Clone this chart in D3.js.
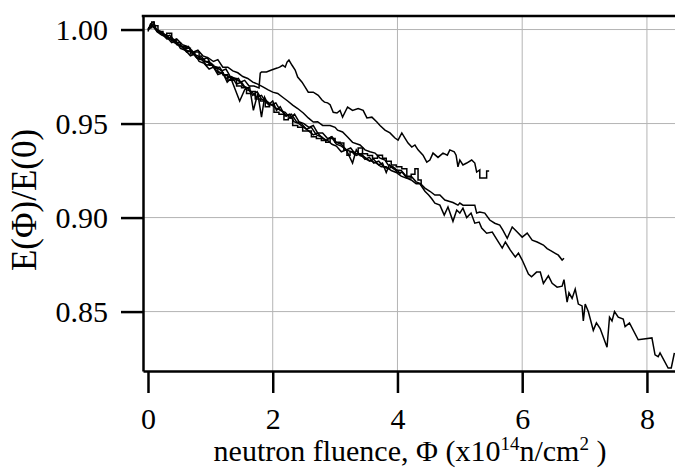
<!DOCTYPE html>
<html>
<head>
    <title>Energy vs neutron fluence</title>
    <script src="https://d3js.org/d3.v7.min.js"></script>
    <style>
        body { margin: 0; background: white; }
        svg text { font-family: "Liberation Serif", "Times New Roman", serif; fill: black; }
    </style>
</head>
<body>
    <svg id="chart" width="675" height="471"></svg>

    <script>
        // ticks
        const xTicks = [0, 2, 4, 6, 8]
        const yTicks = [0.85, 0.90, 0.95, 1.00]

        // traces, [fluence, E/E0]
        const curveA = [[0,1.000],[0.05,1.003],[0.1,1.001],[0.18,0.999],[0.25,0.998],[0.32,0.995],[0.4,0.995],[0.48,0.992],[0.55,0.991],[0.62,0.989],[0.7,0.988],[0.78,0.985],[0.85,0.986],[0.92,0.983],[1.0,0.982],[1.08,0.979],[1.15,0.980],[1.22,0.976],[1.3,0.975],[1.38,0.973],[1.45,0.974],[1.52,0.970],[1.6,0.969],[1.68,0.965],[1.75,0.967],[1.82,0.963],[1.9,0.962],[1.98,0.960],[2.05,0.961],[2.12,0.957],[2.2,0.956],[2.28,0.953],[2.35,0.955],[2.42,0.951],[2.5,0.950],[2.58,0.948],[2.65,0.949],[2.72,0.945],[2.8,0.945],[2.88,0.942],[2.95,0.943],[3.02,0.940],[3.1,0.939],[3.18,0.936],[3.25,0.937],[3.32,0.934],[3.4,0.934],[3.48,0.931],[3.55,0.932],[3.62,0.929],[3.7,0.930],[3.78,0.927],[3.85,0.926],[3.92,0.927],[4.0,0.924],[4.08,0.924],[4.15,0.921],[4.22,0.920],[4.3,0.918],[4.36,0.918],[4.44,0.914],[4.5,0.912],[4.55,0.910],[4.6,0.9077],[4.68,0.9066],[4.75,0.9013],[4.81,0.9056],[4.89,0.898],[4.95,0.904],[5.0,0.9024],[5.05,0.905],[5.11,0.900],[5.18,0.9024],[5.24,0.897],[5.31,0.8976],[5.35,0.8944],[5.43,0.8917],[5.52,0.8923],[5.6,0.888],[5.68,0.8838],[5.73,0.887],[5.81,0.8827],[5.89,0.879],[5.94,0.8811],[6.0,0.8774],[6.1,0.870],[6.15,0.8685],[6.23,0.871],[6.29,0.871],[6.34,0.865],[6.42,0.869],[6.48,0.865],[6.56,0.863],[6.64,0.8635],[6.67,0.867],[6.72,0.855],[6.75,0.860],[6.8,0.857],[6.85,0.862],[6.9,0.854],[6.96,0.853],[6.98,0.845],[7.01,0.854],[7.06,0.850],[7.14,0.840],[7.19,0.844],[7.25,0.841],[7.36,0.831],[7.4,0.847],[7.44,0.845],[7.48,0.850],[7.54,0.847],[7.62,0.846],[7.65,0.842],[7.72,0.844],[7.86,0.835],[8.08,0.836],[8.13,0.827],[8.18,0.826],[8.21,0.828],[8.34,0.820],[8.39,0.820],[8.44,0.828]]

        const curveB = [[0,1.000],[0.07,1.002],[0.12,1.000],[0.2,0.998],[0.3,0.997],[0.38,0.994],[0.46,0.995],[0.55,0.992],[0.63,0.991],[0.72,0.988],[0.8,0.989],[0.88,0.986],[0.96,0.985],[1.05,0.983],[1.12,0.984],[1.2,0.980],[1.28,0.980],[1.36,0.978],[1.44,0.977],[1.52,0.975],[1.6,0.974],[1.68,0.972],[1.76,0.971],[1.85,0.9694],[1.92,0.968],[2.0,0.9667],[2.08,0.966],[2.16,0.964],[2.24,0.962],[2.32,0.9598],[2.4,0.958],[2.49,0.9556],[2.57,0.953],[2.65,0.9508],[2.72,0.951],[2.8,0.949],[2.92,0.949],[3.0,0.948],[3.04,0.9465],[3.12,0.9455],[3.2,0.9428],[3.28,0.940],[3.4,0.9386],[3.48,0.936],[3.56,0.935],[3.64,0.9343],[3.72,0.9316],[3.8,0.9306],[3.85,0.928],[3.93,0.927],[3.99,0.9253],[4.06,0.925],[4.14,0.922],[4.22,0.922],[4.3,0.919],[4.37,0.918],[4.44,0.9157],[4.52,0.914],[4.6,0.912],[4.68,0.912],[4.76,0.9093],[4.89,0.908],[4.97,0.9066],[5.0,0.9077],[5.05,0.9066],[5.24,0.9066],[5.27,0.9024],[5.32,0.903],[5.4,0.9024],[5.48,0.8987],[5.56,0.897],[5.64,0.896],[5.69,0.8933],[5.76,0.889],[5.84,0.895],[5.92,0.8923],[6.0,0.8896],[6.08,0.8917],[6.16,0.888],[6.24,0.887],[6.34,0.8854],[6.4,0.8835],[6.45,0.8825],[6.53,0.881],[6.58,0.880],[6.64,0.8774],[6.67,0.8784]]

        const curveC = [[0,0.999],[0.04,1.003],[0.09,1.004],[0.13,1.000],[0.2,0.999],[0.28,0.996],[0.35,0.997],[0.42,0.993],[0.5,0.992],[0.58,0.990],[0.65,0.991],[0.72,0.987],[0.8,0.986],[0.88,0.984],[0.95,0.985],[1.02,0.981],[1.1,0.980],[1.18,0.978],[1.25,0.979],[1.32,0.975],[1.4,0.974],[1.48,0.972],[1.55,0.973],[1.62,0.970],[1.7,0.970],[1.78,0.969],[1.8,0.9768],[1.82,0.9774],[1.9,0.9774],[1.98,0.9785],[2.07,0.9795],[2.11,0.980],[2.16,0.981],[2.2,0.980],[2.23,0.9827],[2.26,0.9838],[2.31,0.981],[2.36,0.9785],[2.4,0.9747],[2.47,0.972],[2.52,0.9694],[2.57,0.9667],[2.65,0.9667],[2.73,0.965],[2.79,0.9625],[2.83,0.9614],[2.88,0.961],[2.92,0.960],[2.97,0.956],[3.03,0.9556],[3.08,0.957],[3.12,0.9534],[3.2,0.9588],[3.28,0.957],[3.37,0.958],[3.45,0.957],[3.51,0.953],[3.59,0.9534],[3.67,0.9508],[3.72,0.949],[3.8,0.9465],[3.88,0.945],[3.96,0.9423],[4.01,0.9412],[4.07,0.945],[4.12,0.9423],[4.17,0.9396],[4.23,0.9375],[4.28,0.9386],[4.33,0.936],[4.41,0.9332],[4.47,0.9295],[4.52,0.9306],[4.57,0.9343],[4.65,0.932],[4.73,0.9343],[4.8,0.9332],[4.84,0.936],[4.91,0.935],[4.94,0.9332],[4.97,0.927],[5.0,0.9306],[5.05,0.928],[5.11,0.929],[5.19,0.9306],[5.24,0.929],[5.27,0.9242],[5.32,0.9253],[5.32,0.921],[5.43,0.921],[5.43,0.9247],[5.47,0.9247]]

        const curveD = [[0,1.001],[0.06,1.004],[0.1,1.002],[0.16,0.999],[0.24,0.997],[0.3,0.998],[0.38,0.994],[0.45,0.993],[0.52,0.991],[0.6,0.990],[0.68,0.987],[0.75,0.988],[0.82,0.984],[0.9,0.983],[0.98,0.981],[1.05,0.980],[1.12,0.977],[1.2,0.976],[1.28,0.973],[1.35,0.974],[1.42,0.970],[1.5,0.969],[1.58,0.966],[1.65,0.967],[1.72,0.963],[1.8,0.962],[1.88,0.959],[1.95,0.960],[2.02,0.956],[2.1,0.955],[2.18,0.952],[2.25,0.953],[2.32,0.949],[2.4,0.948],[2.48,0.946],[2.55,0.946],[2.62,0.943],[2.7,0.942],[2.78,0.941],[2.85,0.940],[2.92,0.942],[3.0,0.940],[3.08,0.9396],[3.14,0.936],[3.19,0.9332],[3.24,0.935],[3.3,0.934],[3.37,0.937],[3.44,0.934],[3.52,0.933],[3.6,0.9316],[3.68,0.9332],[3.76,0.9316],[3.82,0.930],[3.9,0.928],[3.98,0.927],[4.07,0.926],[4.15,0.921],[4.22,0.923],[4.28,0.926],[4.33,0.920],[4.38,0.917]]

        const curveE = [[0,1.000],[0.05,1.002],[0.1,1.003],[0.14,0.999],[0.22,0.997],[0.3,0.996],[0.38,0.993],[0.45,0.994],[0.52,0.990],[0.6,0.989],[0.68,0.986],[0.75,0.987],[0.82,0.983],[0.9,0.982],[0.98,0.979],[1.05,0.980],[1.12,0.976],[1.2,0.977],[1.27,0.972],[1.33,0.974],[1.4,0.968],[1.47,0.962],[1.55,0.968],[1.63,0.9694],[1.69,0.957],[1.76,0.966],[1.82,0.9534],[1.87,0.964],[1.93,0.960],[2.0,0.962],[2.06,0.957],[2.12,0.959],[2.2,0.954],[2.27,0.955],[2.34,0.951],[2.42,0.950],[2.5,0.948],[2.58,0.946],[2.65,0.944],[2.72,0.945],[2.8,0.942],[2.88,0.941],[2.95,0.939],[3.02,0.938],[3.1,0.935],[3.18,0.936],[3.28,0.929],[3.34,0.936],[3.4,0.933],[3.48,0.932],[3.55,0.930],[3.62,0.931],[3.7,0.928],[3.76,0.929],[3.82,0.924],[3.87,0.928],[3.93,0.926],[4.0,0.925],[4.05,0.923]]

        const curveF = [[0,1.000],[0.08,1.002],[0.15,0.999],[0.22,0.998],[0.3,0.995],[0.38,0.996],[0.46,0.992],[0.54,0.991],[0.62,0.988],[0.7,0.989],[0.78,0.985],[0.86,0.984],[0.94,0.981],[1.02,0.982],[1.1,0.978],[1.18,0.977],[1.26,0.974],[1.34,0.975],[1.42,0.971],[1.5,0.972],[1.58,0.968],[1.66,0.967],[1.74,0.964],[1.82,0.965],[1.9,0.961],[1.98,0.960],[2.06,0.958],[2.14,0.957],[2.22,0.954],[2.3,0.955],[2.38,0.951],[2.46,0.950],[2.54,0.947],[2.62,0.948],[2.7,0.944],[2.78,0.943],[2.86,0.941],[2.94,0.943],[3.02,0.939],[3.1,0.938],[3.18,0.936],[3.26,0.935],[3.34,0.933],[3.42,0.934],[3.5,0.931],[3.58,0.930],[3.66,0.929],[3.74,0.927],[3.82,0.927],[3.9,0.925],[3.98,0.924],[4.06,0.922],[4.14,0.921]]

        const svg = d3.select("#chart")

        // plot frame (top/left named with p so window.top is not touched)
        const pLeft = 143, pRight = 675, pTop = 16, pBottom = 371

        const x = d3.scaleLinear([-0.08, 8.45], [pLeft, pRight])
        const y = d3.scaleLinear([0.8184, 1.0072], [pBottom, pTop])

        // grid
        svg.append("g")
            .selectAll("line")
            .data(xTicks.filter(d => d > 0)).enter()
            .append("line")
            .attr("x1", d => x(d)).attr("x2", d => x(d))
            .attr("y1", pTop).attr("y2", pBottom)
            .attr("stroke", "#b4b4b4").attr("stroke-width", 1)

        svg.append("g")
            .selectAll("line")
            .data(yTicks).enter()
            .append("line")
            .attr("x1", pLeft).attr("x2", pRight)
            .attr("y1", d => y(d)).attr("y2", d => y(d))
            .attr("stroke", "#b4b4b4").attr("stroke-width", 1)

        // traces
        const line = d3.line().x(d => x(d[0])).y(d => y(d[1]))
        const stepLine = d3.line().x(d => x(d[0])).y(d => y(d[1])).curve(d3.curveStepAfter)

        const plot = svg.append("g")
        ;[curveA, curveB, curveC, curveE, curveF].forEach(c => {
            plot.append("path")
                .attr("d", line(c))
                .attr("fill", "none")
                .attr("stroke", "black")
                .attr("stroke-width", 1.5)
        })
        plot.append("path")
            .attr("d", stepLine(curveD))
            .attr("fill", "none")
            .attr("stroke", "black")
            .attr("stroke-width", 1.5)

        // axes
        const xAxis = svg.append("g")
            .attr("transform", "translate(0," + pBottom + ")")
            .call(d3.axisBottom(x).tickValues(xTicks).tickSize(22).tickSizeOuter(0)
                .tickPadding(15).tickFormat(d3.format("d")))
        const yAxis = svg.append("g")
            .attr("transform", "translate(" + pLeft + ",0)")
            .call(d3.axisLeft(y).tickValues(yTicks).tickSize(22).tickSizeOuter(0)
                .tickPadding(13).tickFormat(d3.format(".2f")))

        ;[xAxis, yAxis].forEach(a => {
            a.select(".domain").attr("stroke-width", 2.5)
            a.selectAll(".tick line").attr("stroke-width", 2.5)
            a.selectAll("text").style("font-size", "30px").attr("fill", "black")
        })

        svg.append("line")
            .attr("x1", pLeft - 1.25).attr("x2", pRight)
            .attr("y1", pTop).attr("y2", pTop)
            .attr("stroke", "black").attr("stroke-width", 2.5)

        // labels
        const xl = svg.append("text")
            .attr("x", 410).attr("y", 461)
            .attr("text-anchor", "middle")
            .style("font-size", "30px")
        xl.append("tspan").text("neutron fluence, Φ (x10")
        xl.append("tspan").attr("dy", -11).style("font-size", "19px").text("14")
        xl.append("tspan").attr("dy", 11).text("n/cm")
        xl.append("tspan").attr("dy", -11).style("font-size", "19px").text("2")
        xl.append("tspan").attr("dy", 11).text(" )")

        svg.append("text")
            .attr("transform", "translate(36,200) rotate(-90)")
            .attr("text-anchor", "middle")
            .style("font-size", "35px")
            .text("E(Φ)/E(0)")
    </script>
</body>
</html>
